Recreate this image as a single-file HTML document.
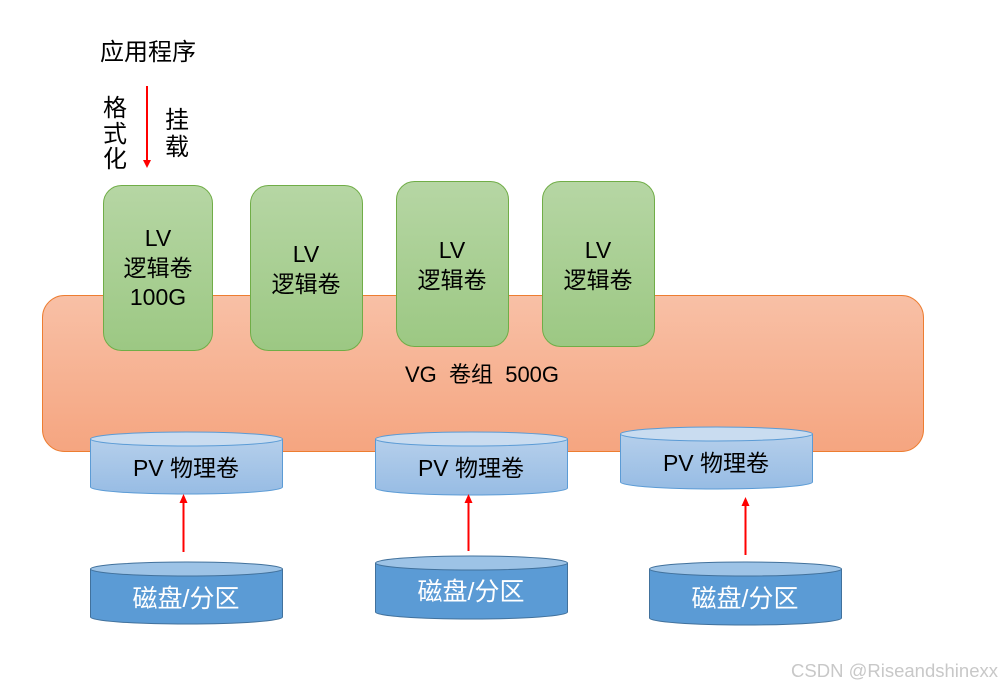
<!DOCTYPE html>
<html><head><meta charset="utf-8"><style>
html,body{margin:0;padding:0;background:#fff;width:1002px;height:689px;overflow:hidden}
text{font-family:"Liberation Sans","Noto Sans CJK SC",sans-serif}
</style></head><body>
<svg width="1002" height="689" viewBox="0 0 1002 689" xmlns="http://www.w3.org/2000/svg">
<defs>
<linearGradient id="vg" x1="0" y1="0" x2="0" y2="1"><stop offset="0" stop-color="#f8c0a6"/><stop offset="1" stop-color="#f5a580"/></linearGradient>
<linearGradient id="lv" x1="0" y1="0" x2="0" y2="1"><stop offset="0" stop-color="#b6d6a4"/><stop offset="1" stop-color="#9cc883"/></linearGradient>
<linearGradient id="pv" x1="0" y1="0" x2="0" y2="1"><stop offset="0" stop-color="#b5cfeb"/><stop offset="1" stop-color="#97bce4"/></linearGradient>
</defs>
<rect x="42.5" y="295.5" width="881" height="156" rx="22" fill="url(#vg)" stroke="#ed7d31" stroke-width="1"/>
<text x="482" y="382" font-size="22" text-anchor="middle" fill="#000" xml:space="preserve">VG  卷组  500G</text>
<g stroke="#70ad47" stroke-width="1" fill="url(#lv)">
<rect x="103.5" y="185.5" width="109" height="165" rx="18"/>
<rect x="250.5" y="185.5" width="112" height="165" rx="18"/>
<rect x="396.5" y="181.5" width="112" height="165" rx="18"/>
<rect x="542.5" y="181.5" width="112" height="165" rx="18"/>
</g>
<g font-size="23" text-anchor="middle" fill="#000">
<text x="158" y="246">LV</text><text x="158" y="276">逻辑卷</text><text x="158" y="305">100G</text>
<text x="306" y="262">LV</text><text x="306" y="292">逻辑卷</text>
<text x="452" y="258">LV</text><text x="452" y="288">逻辑卷</text>
<text x="598" y="258">LV</text><text x="598" y="288">逻辑卷</text>
</g>
<g stroke="#5b9bd5" stroke-width="1">
<path d="M90.5 439 V487 A96 7 0 0 0 282.5 487 V439" fill="url(#pv)"/><ellipse cx="186.5" cy="439" rx="96" ry="7" fill="#c9dcf0"/>
<path d="M375.5 439 V488 A96 7 0 0 0 567.5 488 V439" fill="url(#pv)"/><ellipse cx="471.5" cy="439" rx="96" ry="7" fill="#c9dcf0"/>
<path d="M620.5 434 V482 A96 7 0 0 0 812.5 482 V434" fill="url(#pv)"/><ellipse cx="716.5" cy="434" rx="96" ry="7" fill="#c9dcf0"/>
</g>
<g font-size="23" text-anchor="middle" fill="#000">
<text x="186" y="476">PV 物理卷</text><text x="471" y="476">PV 物理卷</text><text x="716" y="471">PV 物理卷</text>
</g>
<g stroke="#41719c" stroke-width="1">
<path d="M90.5 569 V617 A96 7 0 0 0 282.5 617 V569" fill="#5b9bd5"/><ellipse cx="186.5" cy="569" rx="96" ry="7" fill="#9dc3e6"/>
<path d="M375.5 563 V612 A96 7 0 0 0 567.5 612 V563" fill="#5b9bd5"/><ellipse cx="471.5" cy="563" rx="96" ry="7" fill="#9dc3e6"/>
<path d="M649.5 569 V618 A96 7 0 0 0 841.5 618 V569" fill="#5b9bd5"/><ellipse cx="745.5" cy="569" rx="96" ry="7" fill="#9dc3e6"/>
</g>
<g font-size="25" text-anchor="middle" fill="#fff">
<text x="186" y="607">磁盘/分区</text><text x="471" y="600">磁盘/分区</text><text x="745" y="607">磁盘/分区</text>
</g>
<g stroke="#ff0000" stroke-width="2" fill="#ff0000">
<line x1="147" y1="86" x2="147" y2="161"/><path d="M143 160 L151 160 L147 168 Z" stroke="none"/>
<line x1="183.5" y1="552" x2="183.5" y2="502"/><path d="M179.5 503 L187.5 503 L183.5 494 Z" stroke="none"/>
<line x1="468.5" y1="551" x2="468.5" y2="502"/><path d="M464.5 503 L472.5 503 L468.5 494 Z" stroke="none"/>
<line x1="745.5" y1="555" x2="745.5" y2="505"/><path d="M741.5 506 L749.5 506 L745.5 497 Z" stroke="none"/>
</g>
<g font-size="24" fill="#000">
<text x="100" y="60">应用程序</text>
<text x="103" y="116">格</text><text x="103" y="142">式</text><text x="103" y="167">化</text>
<text x="165" y="128">挂</text><text x="165" y="155">载</text>
</g>
<text x="998" y="677" font-size="18.5" text-anchor="end" fill="#c8c8c8">CSDN @Riseandshinexx</text>
</svg>
</body></html>
